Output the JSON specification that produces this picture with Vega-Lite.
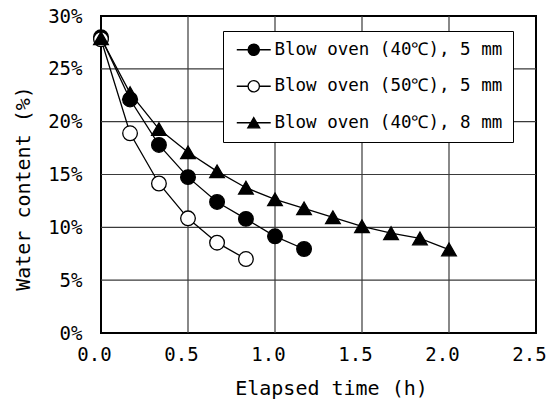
{
  "$schema": "https://vega.github.io/schema/vega-lite/v6.json",
  "width": 435,
  "height": 317,
  "autosize": {"type": "none"},
  "padding": {"left": 101, "top": 16, "right": 12, "bottom": 74},
  "background": "white",
  "config": {
    "font": "DejaVu Sans Mono",
    "view": {"stroke": "black", "strokeWidth": 2},
    "axis": {"labelColor": "black", "titleColor": "black", "titleFontWeight": "normal", "labelFlush": false, "grid": false, "domain": false, "ticks": false}
  },
  "datasets": {
    "curves": [
      {"series": "Blow oven (40℃), 5 mm", "t": 0, "w": 28.0},
      {"series": "Blow oven (40℃), 5 mm", "t": 0.167, "w": 22.1},
      {"series": "Blow oven (40℃), 5 mm", "t": 0.333, "w": 17.8},
      {"series": "Blow oven (40℃), 5 mm", "t": 0.5, "w": 14.75},
      {"series": "Blow oven (40℃), 5 mm", "t": 0.667, "w": 12.4},
      {"series": "Blow oven (40℃), 5 mm", "t": 0.833, "w": 10.8},
      {"series": "Blow oven (40℃), 5 mm", "t": 1.0, "w": 9.15},
      {"series": "Blow oven (40℃), 5 mm", "t": 1.167, "w": 7.95},
      {"series": "Blow oven (50℃), 5 mm", "t": 0, "w": 27.8},
      {"series": "Blow oven (50℃), 5 mm", "t": 0.167, "w": 18.9},
      {"series": "Blow oven (50℃), 5 mm", "t": 0.333, "w": 14.15},
      {"series": "Blow oven (50℃), 5 mm", "t": 0.5, "w": 10.85},
      {"series": "Blow oven (50℃), 5 mm", "t": 0.667, "w": 8.55},
      {"series": "Blow oven (50℃), 5 mm", "t": 0.833, "w": 7.0},
      {"series": "Blow oven (40℃), 8 mm", "t": 0, "w": 27.9},
      {"series": "Blow oven (40℃), 8 mm", "t": 0.167, "w": 22.7},
      {"series": "Blow oven (40℃), 8 mm", "t": 0.333, "w": 19.3},
      {"series": "Blow oven (40℃), 8 mm", "t": 0.5, "w": 17.1},
      {"series": "Blow oven (40℃), 8 mm", "t": 0.667, "w": 15.3},
      {"series": "Blow oven (40℃), 8 mm", "t": 0.833, "w": 13.75},
      {"series": "Blow oven (40℃), 8 mm", "t": 1.0, "w": 12.65},
      {"series": "Blow oven (40℃), 8 mm", "t": 1.167, "w": 11.8},
      {"series": "Blow oven (40℃), 8 mm", "t": 1.333, "w": 10.95},
      {"series": "Blow oven (40℃), 8 mm", "t": 1.5, "w": 10.1},
      {"series": "Blow oven (40℃), 8 mm", "t": 1.667, "w": 9.45},
      {"series": "Blow oven (40℃), 8 mm", "t": 1.833, "w": 8.95},
      {"series": "Blow oven (40℃), 8 mm", "t": 2.0, "w": 7.9}
    ],
    "xgrid": [{"t": 0.5}, {"t": 1.0}, {"t": 1.5}, {"t": 2.0}],
    "ygrid": [{"w": 5}, {"w": 10}, {"w": 15}, {"w": 20}, {"w": 25}]
  },
  "resolve": {"scale": {"shape": "independent", "fill": "independent", "stroke": "independent"}, "legend": {"shape": "independent", "fill": "independent", "stroke": "independent"}},
  "layer": [
    {
      "data": {"name": "xgrid"},
      "mark": {"type": "rule", "stroke": "#3a3a3a", "strokeWidth": 1.2, "strokeOpacity": 1, "opacity": 1},
      "encoding": {"x": {"field": "t", "type": "quantitative", "title": "Elapsed time (h)"}}
    },
    {
      "data": {"name": "ygrid"},
      "mark": {"type": "rule", "stroke": "#3a3a3a", "strokeWidth": 1.2, "strokeOpacity": 1, "opacity": 1},
      "encoding": {"y": {"field": "w", "type": "quantitative", "title": "Water content (%)"}}
    },
    {
      "data": {"name": "curves"},
      "mark": {"type": "line", "color": "black", "strokeWidth": 1.3},
      "encoding": {
        "detail": {"field": "series"},
        "x": {"field": "t", "type": "quantitative", "title": "Elapsed time (h)",
          "scale": {"domain": [0, 2.5], "nice": false},
          "axis": {"values": [0, 0.5, 1, 1.5, 2, 2.5], "format": ".1f",
            "labelFontSize": 19, "labelPadding": 12, "labelOffset": -7, "titleFontSize": 20, "titlePadding": 14, "titleX": 230}},
        "y": {"field": "w", "type": "quantitative", "title": "Water content (%)",
          "scale": {"domain": [0, 30], "nice": false},
          "axis": {"values": [0, 5, 10, 15, 20, 25, 30], "labelExpr": "datum.value + '%'",
            "labelFontSize": 19, "labelPadding": 19, "titleFontSize": 20, "titlePadding": 14, "titleY": 172}}
      }
    },
    {
      "data": {"name": "curves"},
      "mark": {"type": "point", "filled": true, "size": 215, "stroke": "black", "strokeWidth": 1.3, "opacity": 1},
      "encoding": {
        "x": {"field": "t", "type": "quantitative", "title": "Elapsed time (h)"},
        "y": {"field": "w", "type": "quantitative", "title": "Water content (%)"},
        "shape": {"field": "series", "type": "nominal", "legend": null,
          "scale": {"domain": ["Blow oven (40℃), 5 mm", "Blow oven (50℃), 5 mm", "Blow oven (40℃), 8 mm"], "range": ["circle", "circle", "triangle-up"]}},
        "fill": {"field": "series", "type": "nominal", "legend": null,
          "scale": {"domain": ["Blow oven (40℃), 5 mm", "Blow oven (50℃), 5 mm", "Blow oven (40℃), 8 mm"], "range": ["black", "white", "black"]}}
      }
    },
    {
      "data": {"name": "curves"},
      "mark": {"type": "point", "filled": true, "size": 128, "strokeWidth": 1.3, "opacity": 0},
      "encoding": {
        "x": {"field": "t", "type": "quantitative", "title": "Elapsed time (h)"},
        "y": {"field": "w", "type": "quantitative", "title": "Water content (%)"},
        "shape": {"field": "series", "type": "nominal",
          "scale": {"domain": ["Blow oven (40℃), 5 mm", "Blow oven (50℃), 5 mm", "Blow oven (40℃), 8 mm"],
            "range": ["M-3,0H-1M1,0H3M-1,0A1,1 0 1,0 1,0A1,1 0 1,0 -1,0Z", "M-3,0H-1M1,0H3M-1,0A1,1 0 1,0 1,0A1,1 0 1,0 -1,0Z", "M-3,0H3M0,-0.9L1.05,0.9L-1.05,0.9Z"]},
          "legend": {"title": null, "orient": "none", "legendX": 122, "legendY": 15,
            "strokeColor": "black", "fillColor": "white", "padding": 10, "cornerRadius": 0,
            "labelFontSize": 17.5, "labelColor": "black", "labelLimit": 400, "labelOffset": 12, "symbolOffset": 12,
            "symbolSize": 128, "symbolOpacity": 1, "symbolStrokeWidth": 1.3, "rowPadding": 17.5}},
        "fill": {"field": "series", "type": "nominal",
          "scale": {"domain": ["Blow oven (40℃), 5 mm", "Blow oven (50℃), 5 mm", "Blow oven (40℃), 8 mm"], "range": ["black", "white", "black"]},
          "legend": {"title": null, "orient": "none", "legendX": 122, "legendY": 15,
            "strokeColor": "black", "fillColor": "white", "padding": 10, "cornerRadius": 0,
            "labelFontSize": 17.5, "labelColor": "black", "labelLimit": 400, "labelOffset": 12, "symbolOffset": 12,
            "symbolSize": 128, "symbolOpacity": 1, "symbolStrokeWidth": 1.3, "rowPadding": 17.5}},
        "stroke": {"field": "series", "type": "nominal",
          "scale": {"domain": ["Blow oven (40℃), 5 mm", "Blow oven (50℃), 5 mm", "Blow oven (40℃), 8 mm"], "range": ["black", "black", "black"]},
          "legend": {"title": null, "orient": "none", "legendX": 122, "legendY": 15,
            "strokeColor": "black", "fillColor": "white", "padding": 10, "cornerRadius": 0,
            "labelFontSize": 17.5, "labelColor": "black", "labelLimit": 400, "labelOffset": 12, "symbolOffset": 12,
            "symbolSize": 128, "symbolOpacity": 1, "symbolStrokeWidth": 1.3, "rowPadding": 17.5}}
      }
    }
  ]
}
